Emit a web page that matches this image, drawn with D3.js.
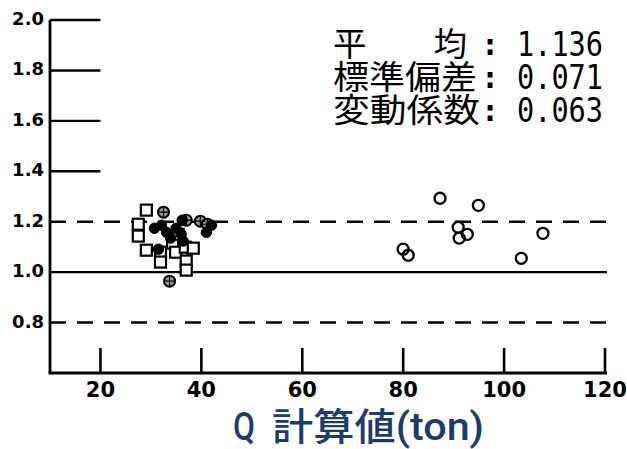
<!DOCTYPE html>
<html><head><meta charset="utf-8">
<script src="https://cdn.jsdelivr.net/npm/d3@7"></script>
<style>html,body{margin:0;padding:0;background:#fff;}svg{display:block;}</style>
</head><body>
<svg id="c" width="627" height="449"></svg>
<script>
// ---- data ----
const squareX = [29.1, 27.5, 27.5, 29.1, 31.9, 31.9, 34.3, 34.9, 36.8, 38.4, 37.0, 37.0, 35.4];
const squareY = [1.246, 1.190, 1.143, 1.087, 1.079, 1.040, 1.115, 1.079, 1.099, 1.095, 1.044, 1.008, 1.150];
const filledX = [30.7, 32.1, 33.1, 33.9, 35.0, 36.0, 31.5, 36.4, 41.0, 42.0, 36.2];
const filledY = [1.174, 1.186, 1.158, 1.135, 1.174, 1.150, 1.091, 1.123, 1.158, 1.186, 1.206];
const crossX = [32.5, 37.0, 39.8, 41.2, 33.7];
const crossY = [1.238, 1.206, 1.202, 1.190, 0.964];
const openX = [87.3, 94.9, 90.9, 91.1, 92.7, 80.0, 81.0, 103.4, 107.7];
const openY = [1.293, 1.265, 1.178, 1.135, 1.150, 1.091, 1.067, 1.055, 1.154];
const xTicks = [20, 40, 60, 80, 100, 120];
const yTickLabels = ["0.8", "1.0", "1.2", "1.4", "1.6", "1.8", "2.0"];
const shortTickValues = [1.4, 1.6, 1.8, 2.0];
const dashedRefs = [0.8, 1.2];
const solidRefs = [1.0];
const statLabels = ["平　　均", "標準偏差", "変動係数"];
const statValues = ["1.136", "0.071", "0.063"];
const xTitle = ["Q", "計算値(ton)"];

// ---- layout ----
const svg = d3.select("#c");
const x = d3.scaleLinear().domain([10, 120]).range([50, 605]);
const y = d3.scaleLinear().domain([0.6, 2.0]).range([373, 20]);
const lineEnd = 607;

// axes
const ax = svg.append("g");
ax.append("line").attr("x1", x(10)).attr("x2", x(10)).attr("y1", y(2.0)).attr("y2", y(0.6))
  .attr("stroke", "#000").attr("stroke-width", 2.8);
ax.append("line").attr("x1", x(10) - 1.4).attr("x2", lineEnd).attr("y1", y(0.6)).attr("y2", y(0.6))
  .attr("stroke", "#000").attr("stroke-width", 2.8);

// short inward horizontal ticks
ax.selectAll("line.st").data(shortTickValues).join("line")
  .attr("x1", x(10)).attr("x2", x(20)).attr("y1", d => y(d)).attr("y2", d => y(d))
  .attr("stroke", "#000").attr("stroke-width", 2.4);

// reference lines
ax.selectAll("line.dr").data(dashedRefs).join("line")
  .attr("x1", x(10)).attr("x2", lineEnd).attr("y1", d => y(d)).attr("y2", d => y(d))
  .attr("stroke", "#000").attr("stroke-width", 2.4).attr("stroke-dasharray", "16,11");
ax.selectAll("line.sr").data(solidRefs).join("line")
  .attr("x1", x(10)).attr("x2", lineEnd).attr("y1", d => y(d)).attr("y2", d => y(d))
  .attr("stroke", "#000").attr("stroke-width", 2.4);

// x ticks (upward)
ax.selectAll("line.xt").data(xTicks).join("line")
  .attr("x1", d => x(d)).attr("x2", d => x(d)).attr("y1", y(0.6)).attr("y2", y(0.6) - 25)
  .attr("stroke", "#000").attr("stroke-width", 2.6);
ax.selectAll("text.xl").data(xTicks).join("text")
  .attr("x", d => x(d)).attr("y", 397).attr("text-anchor", "middle")
  .attr("font-family", "DejaVu Sans, sans-serif").attr("font-size", 21)
  .attr("font-weight", "bold").text(d => d);

// y tick labels
ax.selectAll("text.yl").data(yTickLabels).join("text")
  .attr("x", 44).attr("y", d => y(+d) + 5).attr("text-anchor", "end")
  .attr("font-family", "DejaVu Sans, sans-serif").attr("font-size", 18)
  .attr("font-weight", "bold").text(d => d);

// markers
const g = svg.append("g");
const sq = 11;
g.selectAll("rect.sq").data(squareX.map((v, i) => [v, squareY[i]])).join("rect")
  .attr("x", d => x(d[0]) - sq / 2).attr("y", d => y(d[1]) - sq / 2)
  .attr("width", sq).attr("height", sq)
  .attr("fill", "#fff").attr("stroke", "#000").attr("stroke-width", 2.2);
g.selectAll("circle.cr").data(crossX.map((v, i) => [v, crossY[i]])).join("circle")
  .attr("cx", d => x(d[0])).attr("cy", d => y(d[1])).attr("r", 5.5)
  .attr("fill", "#999").attr("stroke", "#000").attr("stroke-width", 2);
g.selectAll("path.crx").data(crossX.map((v, i) => [v, crossY[i]])).join("path")
  .attr("d", d => `M${x(d[0]) - 5},${y(d[1])}H${x(d[0]) + 5}M${x(d[0])},${y(d[1]) - 5}V${y(d[1]) + 5}`)
  .attr("stroke", "#000").attr("stroke-width", 1.2);
g.selectAll("circle.fc").data(filledX.map((v, i) => [v, filledY[i]])).join("circle")
  .attr("cx", d => x(d[0])).attr("cy", d => y(d[1])).attr("r", 5.2)
  .attr("fill", "#000").attr("stroke", "#000").attr("stroke-width", 1);
g.selectAll("circle.oc").data(openX.map((v, i) => [v, openY[i]])).join("circle")
  .attr("cx", d => x(d[0])).attr("cy", d => y(d[1])).attr("r", 5.5)
  .attr("fill", "none").attr("stroke", "#000").attr("stroke-width", 2.3);

// statistics box
const st = svg.append("g");
const labelLens = [134, 144, 147];
statLabels.forEach((t, i) => {
  const by = 56 + i * 33;
  st.append("text").attr("x", 333).attr("y", by)
    .attr("font-family", "Noto Sans CJK JP, sans-serif").attr("font-size", 33)
    .attr("textLength", labelLens[i]).attr("lengthAdjust", "spacingAndGlyphs").text(t);
  st.append("text").attr("x", 490).attr("y", by - 1).attr("text-anchor", "middle")
    .attr("font-family", "DejaVu Sans Mono, monospace").attr("font-size", 30)
    .attr("font-weight", "bold").text(":");
  st.append("text").attr("x", 517).attr("y", by)
    .attr("font-family", "DejaVu Sans Mono, monospace").attr("font-size", 34)
    .attr("textLength", 86).attr("lengthAdjust", "spacingAndGlyphs").text(statValues[i]);
});

// x title
const tt = svg.append("text").attr("y", 440).attr("fill", "#1d3c6e")
  .attr("font-family", "Roboto, Noto Sans CJK JP, sans-serif").attr("font-size", 38)
  .attr("font-weight", 500);
tt.append("tspan").attr("x", 233).attr("textLength", 22).attr("lengthAdjust", "spacingAndGlyphs").text(xTitle[0]);
tt.append("tspan").attr("x", 272).attr("textLength", 212).attr("lengthAdjust", "spacingAndGlyphs").text(xTitle[1]);
</script>
</body></html>
